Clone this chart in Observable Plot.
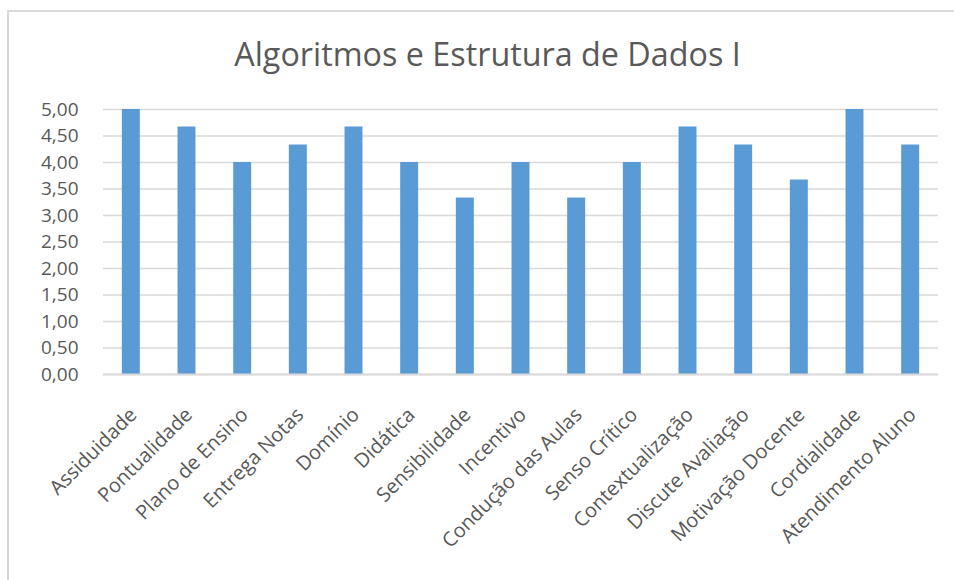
<!DOCTYPE html>
<html>
<head>
<meta charset="utf-8">
<script src="https://cdn.jsdelivr.net/npm/d3@7"></script>
<script src="https://cdn.jsdelivr.net/npm/@observablehq/plot@0.6"></script>
<style>
  html, body { margin: 0; padding: 0; background: #fff; }
  #wrap { position: relative; width: 954px; height: 580px; overflow: hidden; font-family: "Open Sans", sans-serif; }
  #frame { position: absolute; left: 7px; top: 10px; width: 1000px; height: 1000px; border-top: 2px solid #d9d9d9; border-left: 2px solid #d9d9d9; }
  #title { position: absolute; left: 0; width: 975px; top: 31px; text-align: center; font-size: 32.3px; line-height: normal; color: #595959; font-weight: 400; white-space: nowrap; }
  #chart { position: absolute; left: 0; top: 0; }
</style>
</head>
<body>
<div id="wrap">
  <div id="frame"></div>
  <div id="title">Algoritmos e Estrutura de Dados I</div>
  <div id="chart"></div>
</div>
<script>
const categories = ["Assiduidade", "Pontualidade", "Plano de Ensino", "Entrega Notas", "Domínio", "Didática", "Sensibilidade", "Incentivo", "Condução das Aulas", "Senso Crítico", "Contextualização", "Discute Avaliação", "Motivação Docente", "Cordialidade", "Atendimento Aluno"];
const values = [5.00, 4.67, 4.00, 4.33, 4.67, 4.00, 3.33, 4.00, 3.33, 4.00, 4.67, 4.33, 3.67, 5.00, 4.33];
const yTicks = [0, 0.5, 1, 1.5, 2, 2.5, 3, 3.5, 4, 4.5, 5];

const data = categories.map((c, i) => ({category: c, value: values[i]}));
const fmt = d => d.toFixed(2).replace(".", ",");

const chart = Plot.plot({
  width: 954,
  height: 580,
  marginLeft: 103,
  marginRight: 16,
  marginTop: 109,
  marginBottom: 206,
  style: {fontFamily: "Open Sans, sans-serif", fontSize: "19px", color: "#595959", background: "transparent"},
  x: {domain: categories, paddingInner: 0.677, paddingOuter: 0.3385, round: false, label: null},
  y: {domain: [0, 5], label: null},
  marks: [
    Plot.gridY(yTicks, {stroke: "#d9d9d9", strokeOpacity: 1, strokeWidth: 1.5}),
    Plot.barY(data, {x: "category", y: "value", fill: "#5B9BD5"}),
    Plot.ruleY([0], {stroke: "#d9d9d9", strokeWidth: 2}),
    Plot.axisY(yTicks, {tickSize: 0, tickPadding: 25, tickFormat: fmt, label: null, fill: "#595959", fontSize: 19}),
    Plot.axisX({tickSize: 0, tickPadding: 37, dx: 2, tickRotate: -45, label: null, fill: "#595959", fontSize: 20})
  ]
});
document.getElementById("chart").appendChild(chart);
</script>
</body>
</html>
